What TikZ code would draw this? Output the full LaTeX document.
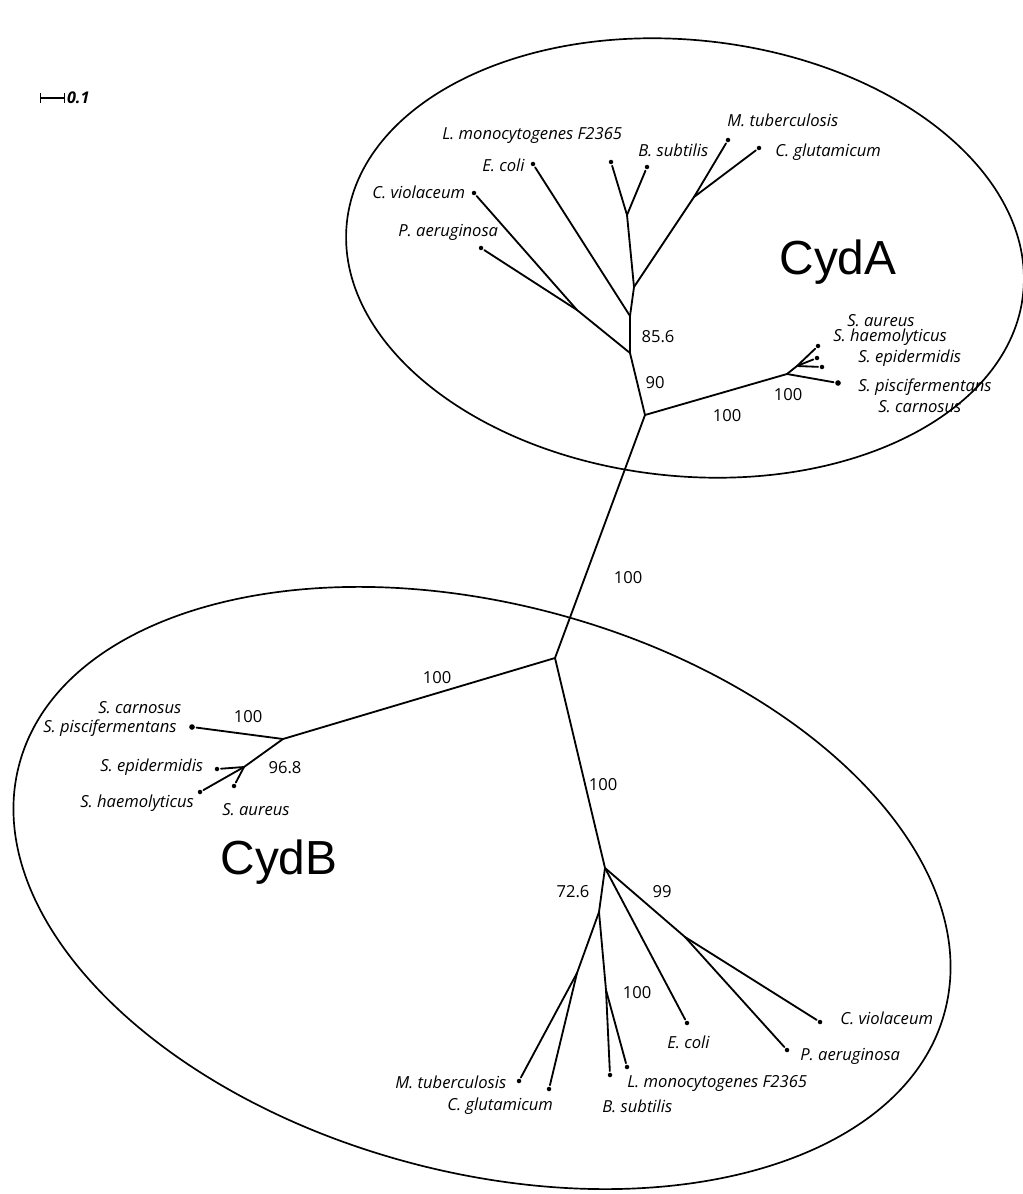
\documentclass[tikz,border=0pt]{standalone}
\usepackage{fontspec}
\setmainfont{Open Sans}
\newfontfamily\cydfont{Liberation Sans}

\begin{document}
\begin{tikzpicture}
[
	x=0.025cm,
	y=-0.025cm,
	branch/.style={line width=1.3pt,line cap=round},
	tipdot/.style={circle,fill,inner sep=0pt,minimum size=3.2pt,outer sep=1.2pt},
	bigdot/.style={tipdot,minimum size=4pt},
	taxon/.style={anchor=west,inner sep=0pt,font=\fontsize{11.8}{13}\selectfont\itshape},
	support/.style={inner sep=0pt,font=\fontsize{11.8}{13}\selectfont},
	group/.style={inner sep=0pt,font=\cydfont\fontsize{34}{40}\selectfont}
]

	\useasboundingbox (0,0) rectangle (1023,1194);

	% ellipses
	\draw[line width=1.2pt,rotate around={-6:(685,258)}] (685,258) ellipse [x radius=340, y radius=218];
	\draw[line width=1.2pt,rotate around={-15:(482,888)}] (482,888) ellipse [x radius=479, y radius=284];

	% scale bar
	\coordinate (sb0) at (40,98);
	\coordinate (sb1) at (65,98);
	\draw[line width=0.9pt,|-|] (sb0) -- (sb1) node[anchor=west,inner sep=1pt,font=\fontsize{11.5}{13}\selectfont\itshape\bfseries] {0.1};

	% inner nodes, CydA
	\coordinate (a0) at (645,415);
	\coordinate (a1) at (787,374);
	\coordinate (a2) at (797,366);
	\coordinate (a3) at (630,353);
	\coordinate (a4) at (577,310);
	\coordinate (a5) at (630,316);
	\coordinate (a6) at (634,287);
	\coordinate (a7) at (694,197);
	\coordinate (a8) at (627,215);

	% inner nodes, CydB
	\coordinate (b0) at (555,658);
	\coordinate (b1) at (283,739);
	\coordinate (b2) at (244,767);
	\coordinate (b3) at (605,868);
	\coordinate (b4) at (599,912);
	\coordinate (b5) at (577,973);
	\coordinate (b6) at (606,990);
	\coordinate (b7) at (685,937);

	% leaves, CydA
	\node[tipdot] (aSau) at (818,346) {};
	\node[tipdot] (aShae) at (817,358) {};
	\node[tipdot] (aSepi) at (822,367) {};
	\node[bigdot] (aSpis) at (838,383) {};
	\node[tipdot] (aPae) at (481,248) {};
	\node[tipdot] (aCvi) at (474,193) {};
	\node[tipdot] (aEco) at (533,164) {};
	\node[tipdot] (aLmo) at (611,162) {};
	\node[tipdot] (aBsu) at (647,167) {};
	\node[tipdot] (aMtu) at (728,140) {};
	\node[tipdot] (aCgl) at (759,148) {};

	% leaves, CydB
	\node[bigdot] (bSpis) at (192,727) {};
	\node[tipdot] (bSepi) at (217,769) {};
	\node[tipdot] (bShae) at (200,792) {};
	\node[tipdot] (bSau) at (234,786) {};
	\node[tipdot] (bMtu) at (519,1081) {};
	\node[tipdot] (bCgl) at (549,1089) {};
	\node[tipdot] (bBsu) at (610,1075) {};
	\node[tipdot] (bLmo) at (627,1067) {};
	\node[tipdot] (bEco) at (687,1023) {};
	\node[tipdot] (bPae) at (787,1050) {};
	\node[tipdot] (bCvi) at (820,1022) {};

	% branches
	\draw[branch] (a0) -- (b0);
	\foreach \u/\v in {a0/a1,a1/a2,a2/aSau,a2/aShae,a2/aSepi,a1/aSpis,
		a0/a3,a3/a4,a4/aPae,a4/aCvi,a3/a5,a5/aEco,a5/a6,a6/a7,a7/aMtu,a7/aCgl,
		a6/a8,a8/aLmo,a8/aBsu} {
		\draw[branch] (\u) -- (\v);
	}
	\foreach \u/\v in {b0/b1,b1/bSpis,b1/b2,b2/bShae,b2/bSepi,b2/bSau,
		b0/b3,b3/b4,b4/b5,b5/bMtu,b5/bCgl,b4/b6,b6/bBsu,b6/bLmo,
		b3/bEco,b3/b7,b7/bPae,b7/bCvi} {
		\draw[branch] (\u) -- (\v);
	}

	% taxon names, CydA
	\node[taxon] (tLmo) at (442,135) {L. monocytogenes F2365};
	\node[taxon] (tBsu) at (638,150) {B. subtilis};
	\node[taxon] (tEco) at (482,165) {E. coli};
	\node[taxon] (tCvi) at (372,192) {C. violaceum};
	\node[taxon] (tPae) at (398,232) {P. aeruginosa};
	\node[taxon] (tMtu) at (727,120) {M. tuberculosis};
	\node[taxon] (tCgl) at (775,152) {C. glutamicum};
	\node[taxon] (tSau) at (847,321) {S. aureus};
	\node[taxon] (tShae) at (833,337) {S. haemolyticus};
	\node[taxon] (tSepi) at (858,358) {S. epidermidis};
	\node[taxon] (tSpis) at (858,387) {S. piscifermentans};
	\node[taxon] (tScar) at (878,407) {S. carnosus};

	% taxon names, CydB
	\node[taxon] (uScar) at (98,708) {S. carnosus};
	\node[taxon] (uSpis) at (43,728) {S. piscifermentans};
	\node[taxon] (uSepi) at (100,767) {S. epidermidis};
	\node[taxon] (uShae) at (80,803) {S. haemolyticus};
	\node[taxon] (uSau) at (222,810) {S. aureus};
	\node[taxon] (uMtu) at (395,1082) {M. tuberculosis};
	\node[taxon] (uCgl) at (447,1106) {C. glutamicum};
	\node[taxon] (uBsu) at (602,1106) {B. subtilis};
	\node[taxon] (uLmo) at (627,1083) {L. monocytogenes F2365};
	\node[taxon] (uEco) at (667,1042) {E. coli};
	\node[taxon] (uPae) at (800,1056) {P. aeruginosa};
	\node[taxon] (uCvi) at (840,1018) {C. violaceum};

	% support values
	\node[support] (s1) at (658,337) {85.6};
	\node[support] (s2) at (655,383) {90};
	\node[support] (s3) at (727,416) {100};
	\node[support] (s4) at (788,395) {100};
	\node[support] (s5) at (628,578) {100};
	\node[support] (s6) at (437,678) {100};
	\node[support] (s7) at (248,717) {100};
	\node[support] (s8) at (285,768) {96.8};
	\node[support] (s9) at (603,785) {100};
	\node[support] (s10) at (573,892) {72.6};
	\node[support] (s11) at (662,892) {99};
	\node[support] (s12) at (637,993) {100};

	% groups
	\node[group] (gA) at (838,262) {CydA};
	\node[group] (gB) at (279,862) {CydB};

\end{tikzpicture}
\end{document}
